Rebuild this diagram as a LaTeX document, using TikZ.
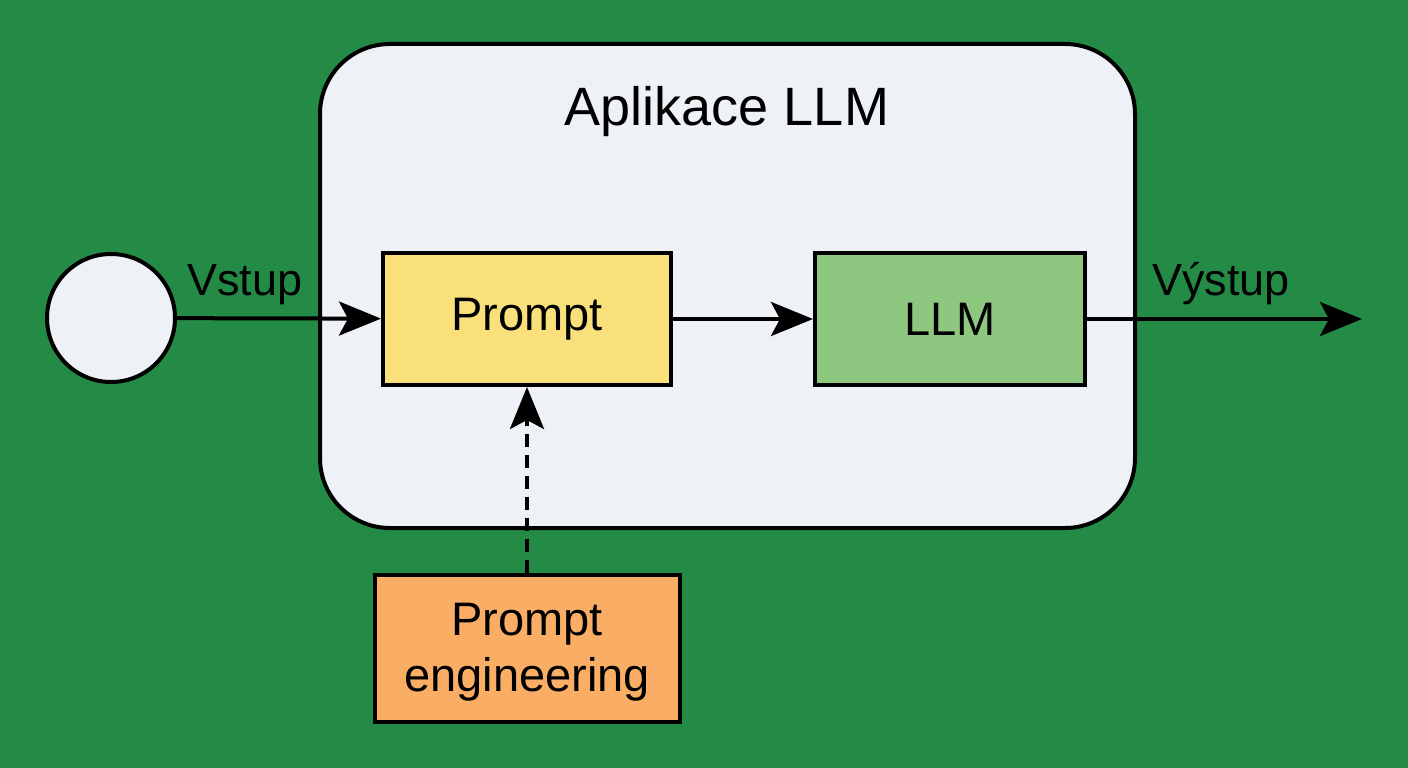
\documentclass[tikz,border=0pt]{standalone}
\usepackage{fontspec}
\setmainfont{Liberation Sans}
\usetikzlibrary{arrows.meta}
\definecolor{bggreen}{RGB}{36,139,70}
\definecolor{panel}{RGB}{238,241,246}
\definecolor{yel}{RGB}{249,224,122}
\definecolor{grn}{RGB}{142,199,127}
\definecolor{org}{RGB}{249,173,101}
\tikzset{
  box/.style={draw=black, line width=4pt, inner sep=0pt},
  conn/.style={line width=4pt, -{Stealth[length=42pt,width=34pt,inset=9pt]}},
  lbl/.style={font=\fontsize{45}{54}\selectfont, anchor=base},
  boxtxt/.style={font=\fontsize{47}{56}\selectfont}
}
\begin{document}
\begin{tikzpicture}[x=1pt,y=-1pt]
\fill[bggreen] (0,0) rectangle (1408,768);
\useasboundingbox (0,0) rectangle (1408,768);
\node[box, fill=panel, rounded corners=70pt, minimum width=815pt, minimum height=484pt] (app) at (727.5,286) {};
\node[font=\fontsize{54}{64}\selectfont, anchor=base] (title) at (727,125) {Aplikace LLM};
\node[draw=black, line width=4pt, fill=panel, circle, minimum size=128pt, inner sep=0pt] (inp) at (111,318) {};
\node[box, fill=yel, minimum width=288pt, minimum height=132pt, boxtxt] (prompt) at (527,319) {Prompt};
\node[box, fill=grn, minimum width=270pt, minimum height=132pt, boxtxt] (llm) at (950,319) {LLM};
\node[box, fill=org, minimum width=305pt, minimum height=147pt] (pe) at (527,648) {};
\node[boxtxt, align=center] (petxt) at (527,652) {Prompt\\engineering};
\coordinate (out) at (1362,319);
\draw[conn] (inp) -- (prompt);
\draw[conn] (prompt) -- (llm);
\draw[conn] (llm) -- (out);
\draw[conn, dash pattern=on 13pt off 8pt] (pe.north) -- (prompt.south);
\node[lbl] (vstup) at (245,295) {Vstup};
\node[lbl] (vystup) at (1221,295) {Výstup};
\end{tikzpicture}
\end{document}
